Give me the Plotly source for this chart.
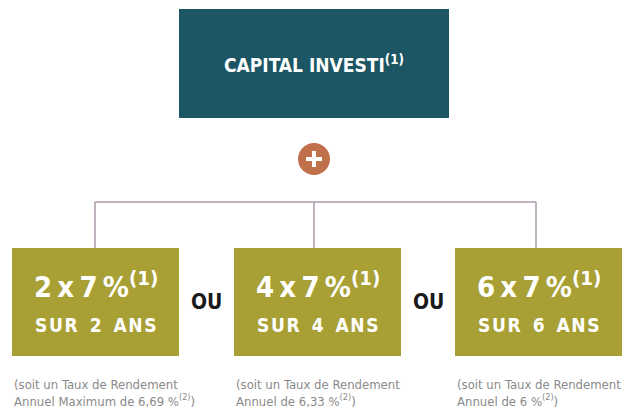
import plotly.graph_objects as go

# data
top_label = "CAPITAL INVESTI"
counts = [2, 4, 6]
coupon = "7 %"
annual_rates = ["Maximum de 6,69 %", "de 6,33 %", "de 6 %"]
separator = "OU"

W, H = 629, 414
NARROW = "DejaVu Sans Condensed"
TEAL = "#1c5664"
OLIVE = "#a9a035"
ORANGE = "#c0704a"
LINE = "#a899a8"
GREY = "#8a8a8a"
THIN = "\u2009"
HAIR = "\u200a"


def spaced(s):
    # mimic wide letter tracking
    return HAIR.join(s).replace(HAIR + " " + HAIR, "  ")


fig = go.Figure()
shapes = []
annotations = []

# top box
shapes.append(dict(type="rect", x0=179, x1=449, y0=9, y1=118,
                   fillcolor=TEAL, line=dict(width=0), layer="below"))
annotations.append(dict(x=314, y=64, text="<b>" + top_label + "<sup>(1)</sup></b>",
                        showarrow=False, font=dict(family=NARROW, size=19, color="white")))

# plus circle
shapes.append(dict(type="circle", x0=298, x1=330, y0=143, y1=175,
                   fillcolor=ORANGE, line=dict(width=0)))
shapes.append(dict(type="line", x0=306, x1=322, y0=159, y1=159, line=dict(color="white", width=4)))
shapes.append(dict(type="line", x0=314, x1=314, y0=151, y1=167, line=dict(color="white", width=4)))

# connectors
box_x0 = [12, 234, 455]
box_w = 167
shapes.append(dict(type="line", x0=95, x1=536, y0=202, y1=202, line=dict(color=LINE, width=1.5)))
for cx in [95, 314, 536]:
    shapes.append(dict(type="line", x0=cx, x1=cx, y0=202, y1=248, line=dict(color=LINE, width=1.5)))

for i, n in enumerate(counts):
    x0 = box_x0[i]
    shapes.append(dict(type="rect", x0=x0, x1=x0 + box_w, y0=248, y1=356,
                       fillcolor=OLIVE, line=dict(width=0), layer="below"))
    cx = x0 + box_w / 2
    main = ("%d x %s" % (n, coupon)).replace(" ", THIN)
    annotations.append(dict(x=cx, y=285, text="<b>" + main + "<sup>(1)</sup></b>",
                            showarrow=False, font=dict(family=NARROW, size=29, color="white")))
    annotations.append(dict(x=cx, y=325, text="<b>" + spaced("SUR %d ANS" % n) + "</b>",
                            showarrow=False, font=dict(family=NARROW, size=19, color="white")))
    annotations.append(dict(x=x0, y=393, xanchor="left", align="left",
                            text="(soit un Taux de Rendement<br>Annuel " + annual_rates[i] + "<sup>(2)</sup>)",
                            showarrow=False, font=dict(family=NARROW, size=13, color=GREY)))

for xs in [206, 428]:
    annotations.append(dict(x=xs, y=302, text="<b>" + separator + "</b>", showarrow=False,
                            font=dict(family=NARROW, size=21, color="#1a1a1a")))

fig.update_layout(
    width=W, height=H,
    margin=dict(l=0, r=0, t=0, b=0),
    paper_bgcolor="white", plot_bgcolor="white",
    xaxis=dict(range=[0, W], visible=False, fixedrange=True),
    yaxis=dict(range=[H, 0], visible=False, fixedrange=True),
    shapes=shapes, annotations=annotations, showlegend=False,
)
fig.write_html("out.html", config={"displayModeBar": False},
               post_script="document.body.style.margin='0';")
